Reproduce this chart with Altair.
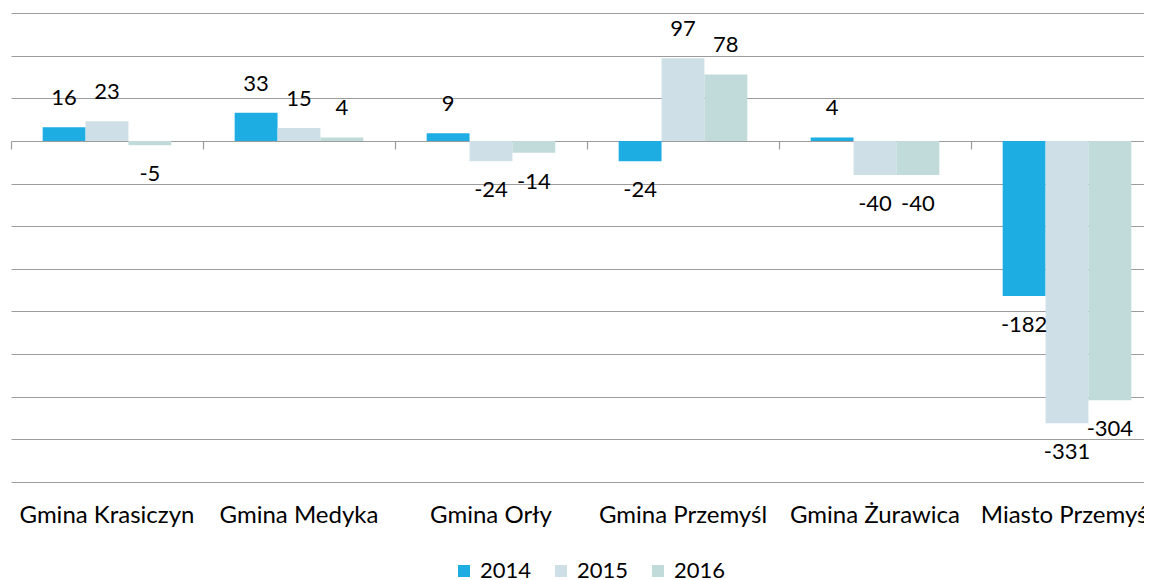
import altair as alt
import pandas as pd

categories = ["Gmina Krasiczyn", "Gmina Medyka", "Gmina Orły", "Gmina Przemyśl", "Gmina Żurawica", "Miasto Przemyśl"]
years = ["2014", "2015", "2016"]
v2014 = [16, 33, 9, -24, 4, -182]
v2015 = [23, 15, -24, 97, -40, -331]
v2016 = [-5, 4, -14, 78, -40, -304]
colors = ["#1DADE3", "#CFDFE8", "#C0DBDA"]
grid_values = [-400, -350, -300, -250, -200, -150, -100, -50, 0, 50, 100, 150]

rows = []
for yr, vals in zip(years, [v2014, v2015, v2016]):
    for c, v in zip(categories, vals):
        rows.append({"cat": c, "year": yr, "value": v, "label": str(v)})
df = pd.DataFrame(rows)

FONT = "Lato"
GRID = "#9C9C9C"

# plot 1133 px wide, category step 192 px; the last category runs past the right edge
xscale = alt.Scale(domain=categories, paddingInner=0.33, paddingOuter=0.1155, align=0.714)
yscale = alt.Scale(domain=[-400, 150], nice=False, zero=False)
xoff = alt.XOffset("year:N", sort=years, scale=alt.Scale(paddingInner=0, paddingOuter=0))
y_enc = alt.Y("value:Q", scale=yscale, title=None,
              axis=alt.Axis(values=grid_values, labels=False, ticks=False, domain=False,
                            grid=True, gridColor=GRID, gridWidth=1.2))

base = alt.Chart(df)

bars = base.mark_bar().encode(
    x=alt.X("cat:N", scale=xscale, sort=categories, title=None,
            axis=alt.Axis(orient="bottom", domain=False, ticks=False, tickSize=0, labelAngle=0,
                          labelFont=FONT, labelFontSize=24, labelColor="#000000", labelPadding=21,
                          labelBound=False, labelOverlap=False, labelLimit=0, grid=False)),
    xOffset=xoff,
    y=y_enc,
    y2=alt.datum(0),
    color=alt.Color("year:N", scale=alt.Scale(domain=years, range=colors), title=None,
                    legend=alt.Legend(orient="none", legendX=442, legendY=547, direction="horizontal",
                                      symbolType="square", symbolSize=144, symbolStrokeWidth=0,
                                      labelFont=FONT, labelFontSize=22, labelColor="#000000",
                                      labelOffset=5, columnPadding=18, padding=0)),
)

ticks = base.mark_bar(opacity=0).encode(
    x=alt.X("cat:N", scale=xscale, sort=categories, title=None,
            axis=alt.Axis(orient="bottom", labels=False, domain=False, ticks=True, tickSize=8,
                          tickColor=GRID, tickWidth=1.2, tickOffset=-96, offset=-341, grid=False)),
    xOffset=xoff,
    y=y_enc,
    y2=alt.datum(0),
)

pos_text = base.transform_filter("datum.value >= 0").mark_text(
    dy=-29, baseline="middle", align="center", font=FONT, fontSize=22, color="#000000"
).encode(
    x=alt.X("cat:N", scale=xscale, sort=categories, axis=None),
    xOffset=xoff,
    y=alt.Y("value:Q", scale=yscale),
    text="label:N",
)

neg_text = base.transform_filter("datum.value < 0").mark_text(
    dy=29, baseline="middle", align="center", font=FONT, fontSize=22, color="#000000"
).encode(
    x=alt.X("cat:N", scale=xscale, sort=categories, axis=None),
    xOffset=xoff,
    y=alt.Y("value:Q", scale=yscale),
    text="label:N",
)

chart = alt.layer(bars, ticks, pos_text, neg_text).resolve_axis(x="independent").properties(
    width=1133, height=469,
    autosize=alt.AutoSizeParams(type="none"),
    padding={"left": 3, "top": 5, "right": 0, "bottom": 98},
    background="white",
).configure_view(stroke=None)

chart.save("out.html", embed_options={"renderer": "svg", "actions": False})
